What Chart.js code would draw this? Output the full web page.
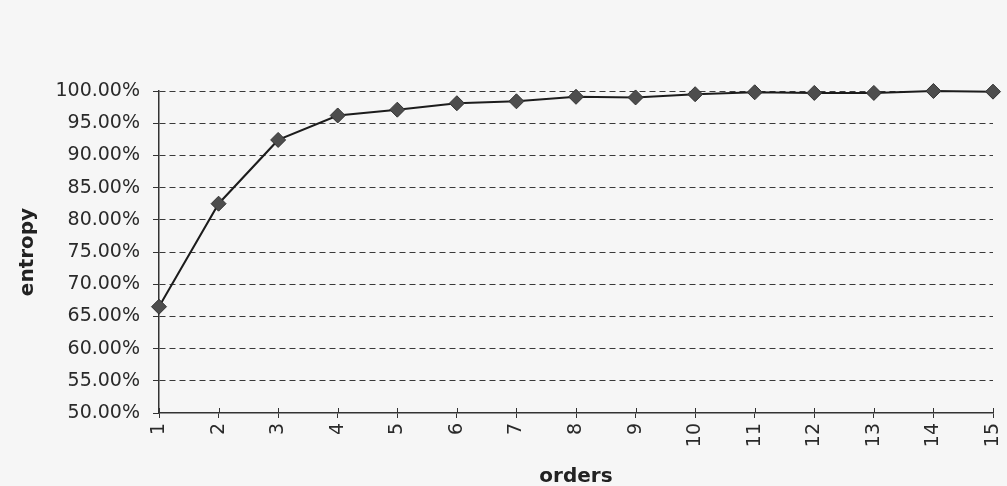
<!DOCTYPE html>
<html>
<head>
<meta charset="utf-8">
<script src="https://cdn.jsdelivr.net/npm/chart.js@4/dist/chart.umd.min.js"></script>
<style>
  html, body { margin: 0; padding: 0; background: #f6f6f6; }
  #wrap { width: 1007px; height: 486px; position: relative; }
</style>
</head>
<body>
<div id="wrap"><canvas id="c" width="1007" height="486"></canvas></div>
<script>
const orders = ['1','2','3','4','5','6','7','8','9','10','11','12','13','14','15'];
const entropy = [66.5, 82.5, 92.4, 96.2, 97.1, 98.1, 98.4, 99.1, 99.0, 99.5, 99.8, 99.7, 99.7, 100.0, 99.9];
const yMin = 50, yMax = 100, yStep = 5;
const xTitle = 'orders';
const yTitle = 'entropy';

const bgPlugin = {
  id: 'bg',
  beforeDraw(chart) {
    const ctx = chart.ctx;
    ctx.save();
    ctx.fillStyle = '#f6f6f6';
    ctx.fillRect(0, 0, chart.width, chart.height);
    ctx.restore();
  }
};

const crossTicks = {
  id: 'crossTicks',
  afterDatasetsDraw(chart) {
    const x = chart.scales.x;
    const ctx = chart.ctx;
    ctx.save();
    ctx.strokeStyle = '#333';
    ctx.lineWidth = 1;
    ctx.beginPath();
    for (let i = 0; i < x.ticks.length; i++) {
      const px = Math.round(x.getPixelForTick(i)) + 0.5;
      ctx.moveTo(px, x.top - 5);
      ctx.lineTo(px, x.top);
    }
    ctx.stroke();
    ctx.restore();
  }
};

new Chart(document.getElementById('c'), {
  type: 'line',
  data: {
    labels: orders,
    datasets: [{
      data: entropy,
      borderColor: '#1c1c1c',
      borderWidth: 2,
      tension: 0,
      pointStyle: 'rectRot',
      pointRadius: 7.5,
      pointBackgroundColor: '#4d4d4d',
      pointBorderColor: '#333',
      pointBorderWidth: 1,
      clip: false
    }]
  },
  options: {
    responsive: false,
    animation: false,
    devicePixelRatio: 1,
    layout: { padding: { top: 91, right: 0, left: 0, bottom: 0 } },
    plugins: { legend: { display: false }, tooltip: { enabled: false } },
    scales: {
      x: {
        type: 'category',
        offset: false,
        border: { display: true, color: '#333', width: 1.5 },
        grid: { display: true, drawOnChartArea: false, drawTicks: true, tickLength: 5, color: '#333', tickColor: '#333' },
        ticks: {
          minRotation: 90, maxRotation: 90, autoSkip: false, padding: 5,
          color: '#2a2a2a',
          font: { family: 'DejaVu Sans', size: 19 }
        },
        title: {
          display: true, text: xTitle, color: '#222',
          font: { family: 'DejaVu Sans', size: 20, weight: 'bold' },
          padding: { top: 0, bottom: -3 }
        },
        afterFit(scale) { scale.height = 73; scale.paddingRight = 14; scale.paddingLeft = 0; }
      },
      y: {
        min: yMin, max: yMax,
        border: { display: true, color: '#333', width: 1.5, dash: [6, 4] },
        grid: {
          color: c => (c.tick && c.tick.value === yMin) ? 'rgba(0,0,0,0)' : '#3a3a3a',
          lineWidth: 1,
          drawTicks: true, tickLength: 6, tickColor: '#333', tickBorderDash: []
        },
        ticks: {
          stepSize: yStep, padding: 13, color: '#2a2a2a',
          font: { family: 'DejaVu Sans', size: 19 },
          callback: v => v.toFixed(2) + '%'
        },
        title: {
          display: true, text: yTitle, color: '#222',
          font: { family: 'DejaVu Sans', size: 20, weight: 'bold' },
          padding: { top: 16, bottom: 0 }
        },
        afterFit(scale) { scale.width = 159; }
      }
    }
  },
  plugins: [bgPlugin, crossTicks]
});
</script>
</body>
</html>
